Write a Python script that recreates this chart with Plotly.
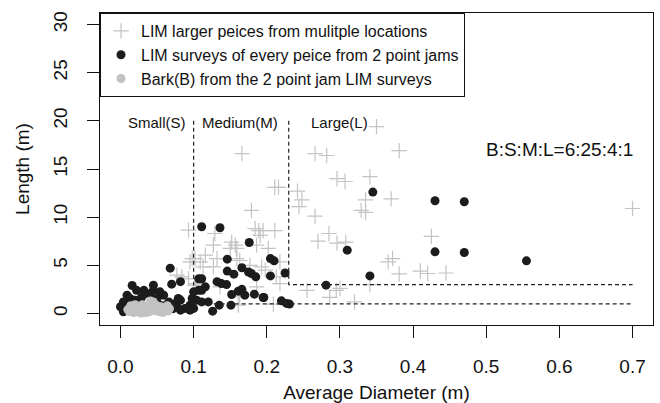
import plotly.graph_objects as go

# ---- data ----
lim_large_x = [0.350, 0.266, 0.282, 0.381, 0.296, 0.307, 0.341, 0.211, 0.216, 0.242, 0.248, 0.244,
               0.266, 0.335, 0.329, 0.335, 0.370, 0.700, 0.211, 0.270, 0.285, 0.296, 0.308, 0.425,
               0.366, 0.372, 0.381, 0.410, 0.420, 0.445, 0.341, 0.255, 0.295, 0.300, 0.286, 0.320,
               0.209, 0.195, 0.166, 0.179, 0.184, 0.189, 0.191, 0.129, 0.127, 0.152, 0.157, 0.159,
               0.150, 0.186, 0.202, 0.116, 0.132, 0.109, 0.102, 0.113, 0.127, 0.159, 0.163, 0.177,
               0.193, 0.198, 0.218, 0.213, 0.218, 0.104, 0.136, 0.163, 0.186, 0.161, 0.093, 0.098,
               0.084, 0.093, 0.095, 0.077, 0.102]
lim_large_y = [19.4, 16.6, 16.4, 16.9, 14.0, 13.7, 14.2, 13.1, 13.1, 12.7, 11.8, 11.1,
               10.1, 11.8, 10.7, 10.5, 11.9, 10.9, 8.6, 7.5, 8.3, 7.3, 7.4, 8.0,
               5.36, 5.7, 4.1, 4.4, 4.15, 4.2, 3.0, 2.4, 2.4, 2.6, 1.66, 1.2,
               0.97, 8.6, 16.6, 10.7, 8.8, 8.6, 8.1, 8.3, 7.1, 7.4, 7.1, 6.75,
               6.75, 7.1, 6.75, 6.05, 5.7, 5.36, 5.7, 4.84, 4.84, 5.7, 5.5, 5.0,
               4.84, 4.5, 5.36, 3.8, 3.1, 3.1, 2.76, 1.72, 2.76, 0.86, 8.65, 5.7,
               3.8, 3.6, 5.36, 3.97, 2.94]

jam_x = [0.345, 0.430, 0.470, 0.470, 0.555, 0.310, 0.430, 0.341, 0.281, 0.205, 0.210, 0.205,
         0.225, 0.195, 0.220, 0.231,
         0.111, 0.136, 0.176, 0.146, 0.146, 0.155, 0.166, 0.175, 0.179, 0.185, 0.111, 0.132,
         0.138, 0.145, 0.116, 0.111, 0.152, 0.161, 0.166, 0.170, 0.183, 0.196, 0.100, 0.111,
         0.120, 0.100, 0.126, 0.135, 0.151, 0.227,
         0.068, 0.082, 0.070, 0.045, 0.016, 0.059, 0.034, 0.045, 0.029, 0.009, 0.004, 0.004,
         0.020, 0.082, 0.077, 0.088, 0.095, 0.104, 0.107, 0.107, 0.054, 0.022, 0.032, 0.054,
         0.079, 0.000, 0.007, 0.013, 0.018, 0.027, 0.050, 0.066, 0.075, 0.082, 0.063, 0.095,
         0.098, 0.100, 0.041, 0.012, 0.025, 0.060, 0.072]
jam_y = [12.6, 11.7, 11.6, 6.33, 5.46, 6.57, 6.4, 3.9, 2.94, 5.7, 5.46, 3.9,
         4.2, 1.66, 1.31, 0.97,
         9.0, 8.9, 7.37, 5.64, 4.4, 4.08, 4.74, 4.3, 4.15, 3.8, 3.6, 3.3,
         3.1, 3.0, 2.76, 2.4, 1.97, 2.3, 2.5, 1.9, 2.0, 1.66, 1.31, 1.2,
         1.2, 0.52, 0.24, 0.86, 0.86, 1.04,
         4.7, 3.3, 3.04, 2.94, 2.9, 1.9, 2.07, 2.4, 1.72, 1.9, 1.2, 0.17,
         1.38, 1.38, 0.69, 0.52, 0.86, 1.38, 2.4, 3.6, 0.86, 2.4, 2.4, 2.24,
         1.55, 0.69, 0.52, 1.55, 1.2, 1.38, 1.55, 1.2, 1.04, 0.34, 0.34, 0.34,
         1.55, 2.24, 2.07, 0.9, 0.8, 0.8, 0.5]

bark_x = [0.012, 0.015, 0.018, 0.020, 0.022, 0.025, 0.027, 0.030, 0.032, 0.035, 0.037, 0.040,
          0.041, 0.043, 0.045, 0.047, 0.050, 0.052, 0.055, 0.057, 0.060, 0.062, 0.065, 0.067,
          0.014, 0.020, 0.028, 0.034, 0.040, 0.046, 0.050, 0.058, 0.064, 0.030, 0.042, 0.010]
bark_y = [0.2, 0.5, 0.1, 0.35, 0.7, 0.15, 0.45, 0.25, 0.6, 0.1, 0.4, 0.8,
          1.3, 1.0, 1.2, 0.3, 0.5, 0.2, 0.7, 0.15, 0.4, 0.6, 0.25, 0.5,
          0.8, 0.9, 0.05, 0.3, 0.2, 0.9, 0.8, 0.1, 0.8, 0.9, 0.6, 0.4]

x_ticks = [0.0, 0.1, 0.2, 0.3, 0.4, 0.5, 0.6, 0.7]
x_ticktext = ["0.0", "0.1", "0.2", "0.3", "0.4", "0.5", "0.6", "0.7"]
y_ticks = [0, 5, 10, 15, 20, 25, 30]

# class boundary lines (diameter / length thresholds)
small_line_x = [0.1, 0.1, 0.7]
small_line_y = [20, 1, 1]
medium_line_x = [0.23, 0.23, 0.7]
medium_line_y = [20, 3, 3]

class_labels = ["Small(S)", "Medium(M)", "Large(L)"]
class_label_x = [0.05, 0.164, 0.30]
class_label_y = [19.8, 19.8, 19.8]
ratio_text = "B:S:M:L=6:25:4:1"
ratio_x, ratio_y = 0.6, 17

FONT = "Liberation Sans, Arial, Helvetica, sans-serif"
INK = "#111111"

fig = go.Figure()
fig.add_trace(go.Scatter(
    x=lim_large_x, y=lim_large_y, mode="markers",
    name="LIM larger peices from mulitple locations",
    marker=dict(symbol="cross-thin", size=11, line=dict(color="#c4c4c4", width=1.2)),
))
fig.add_trace(go.Scatter(
    x=jam_x, y=jam_y, mode="markers",
    name="LIM surveys of every peice from 2 point jams",
    marker=dict(symbol="circle", size=9, color="#1c1c1c", line=dict(width=0)),
))
fig.add_trace(go.Scatter(
    x=bark_x, y=bark_y, mode="markers",
    name="Bark(B) from the 2 point jam LIM surveys",
    marker=dict(symbol="circle", size=9, color="#c2c2c2", line=dict(width=0)),
))

for lx, ly in [(small_line_x, small_line_y), (medium_line_x, medium_line_y)]:
    path = "M " + " L ".join(f"{a},{b}" for a, b in zip(lx, ly))
    fig.add_shape(type="path", path=path, xref="x", yref="y",
                  line=dict(color="#222222", width=1.2, dash="4px,3px"))

for t, tx, ty in zip(class_labels, class_label_x, class_label_y):
    fig.add_annotation(x=tx, y=ty, text=t, showarrow=False, xanchor="center", yanchor="middle",
                       font=dict(family=FONT, size=15, color=INK))
fig.add_annotation(x=ratio_x, y=ratio_y, text=ratio_text, showarrow=False,
                   xanchor="center", yanchor="middle",
                   font=dict(family=FONT, size=19, color=INK))

fig.update_layout(
    width=660, height=403,
    margin=dict(l=100, r=7, t=13, b=78, autoexpand=False),
    paper_bgcolor="white", plot_bgcolor="white",
    font=dict(family=FONT, color=INK),
    showlegend=True,
    legend=dict(x=0, y=1, xanchor="left", yanchor="top", xref="paper", yref="paper",
                bordercolor=INK, borderwidth=1, bgcolor="white",
                font=dict(family=FONT, size=16, color=INK),
                itemsizing="trace", tracegroupgap=0),
    xaxis=dict(range=[-0.028, 0.728], tickvals=x_ticks, ticktext=x_ticktext,
               ticks="outside", ticklen=12, tickcolor=INK, tickwidth=1,
               showline=True, mirror=True, linecolor=INK, linewidth=1,
               showgrid=False, zeroline=False, ticklabelstandoff=12, automargin=False,
               tickfont=dict(family=FONT, size=19, color=INK),
               title=dict(text="Average Diameter (m)", standoff=13,
                          font=dict(family=FONT, size=19, color=INK))),
    yaxis=dict(range=[-1.2, 31.2], tickvals=y_ticks,
               ticks="outside", ticklen=12, tickcolor=INK, tickwidth=1,
               showline=True, mirror=True, linecolor=INK, linewidth=1,
               showgrid=False, zeroline=False, tickangle=-90, ticklabelstandoff=12,
               automargin=False,
               tickfont=dict(family=FONT, size=19, color=INK),
               title=dict(text="Length (m)", standoff=15,
                          font=dict(family=FONT, size=19, color=INK))),
)

fig.write_html("out.html")
